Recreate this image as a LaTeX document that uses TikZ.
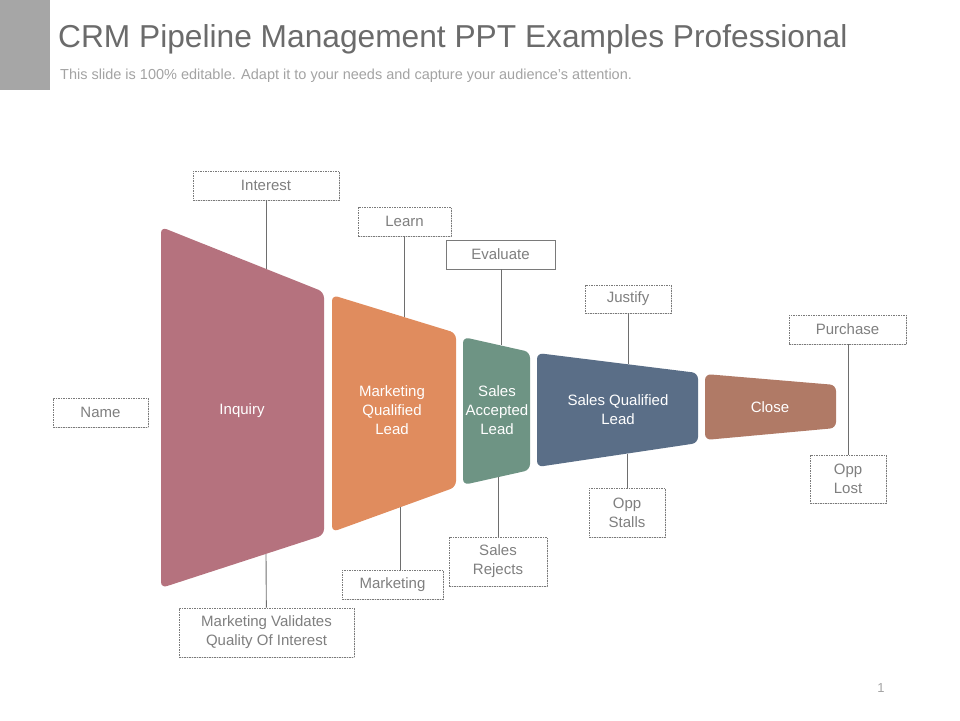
\documentclass[tikz,border=0pt]{standalone}
\usepackage{fontspec}
\setmainfont{Liberation Sans}
\usetikzlibrary{shadows}

\definecolor{inqcol}{HTML}{B5727E}
\definecolor{mqlcol}{HTML}{E08C5E}
\definecolor{salcol}{HTML}{6E9484}
\definecolor{sqlcol}{HTML}{5A6E87}
\definecolor{closecol}{HTML}{B07A66}
\definecolor{lblline}{HTML}{7A7A7A}
\definecolor{lbltext}{HTML}{7F7F7F}
\definecolor{linkcol}{HTML}{6E6E6E}
\definecolor{titlecol}{HTML}{6B6B6B}
\definecolor{subcol}{HTML}{A3A3A3}
\definecolor{barcol}{HTML}{A6A6A6}

\tikzset{
    lbl/.style={draw=lblline, dash pattern=on 1.5pt off 1pt, line width=0.7pt, fill=white, text=lbltext,
        font=\fontsize{15}{19}\selectfont, align=center, inner sep=0pt,
        drop shadow={shadow xshift=1pt, shadow yshift=-1pt, opacity=0.25}},
    lblsolid/.style={lbl, solid},
    stage/.style={rounded corners=6pt, draw=none},
    stagetext/.style={text=white, font=\fontsize{15}{19}\selectfont, align=center},
    link/.style={draw=linkcol, line width=0.9pt},
}

\begin{document}
\begin{tikzpicture}[x=1pt, y=-1pt]
    \useasboundingbox (0,0) rectangle (960,720);
    \fill[barcol] (0,0) rectangle (50,90);
    \node[anchor=base west, text=titlecol, font=\fontsize{31.7}{36}\selectfont, inner sep=0pt] (title) at (58,47) {CRM Pipeline Management PPT Examples Professional};
    \node[anchor=base west, text=subcol, font=\fontsize{14.5}{17}\selectfont, inner sep=0pt] (subtitle) at (60,79) {This slide is 100\% editable. Adapt it to your needs and capture your audience's attention.};

    \fill[stage, inqcol] (161,227) -- (324,292) -- (324,535) -- (161,588) -- cycle;
    \fill[stage, mqlcol] (332,295) -- (456,333) -- (456,487) -- (332,532) -- cycle;
    \fill[stage, salcol] (463,337) -- (530,352) -- (530,470) -- (463,485) -- cycle;
    \fill[stage, sqlcol] (537,353) -- (698,373) -- (698,443) -- (537,467) -- cycle;
    \fill[stage, closecol] (705,374) -- (836,385) -- (836,428) -- (705,440) -- cycle;

    \node[stagetext] (inquiry) at (242,411) {Inquiry};
    \node[stagetext] (mql) at (392,410) {Marketing\\Qualified\\Lead};
    \node[stagetext] (sal) at (497,410) {Sales\\Accepted\\Lead};
    \node[stagetext] (sql) at (618,410) {Sales Qualified\\Lead};
    \node[stagetext] (close) at (770,407) {Close};

    \coordinate (inqT) at (266,269);
    \coordinate (inqB) at (266,554);
    \coordinate (mqlT) at (404,317);
    \coordinate (mqlB) at (400,507);
    \coordinate (salT) at (501,345);
    \coordinate (salB) at (498,477);
    \coordinate (sqlT) at (628,364);
    \coordinate (sqlB) at (627,454);

    \node[lbl, minimum width=146pt, minimum height=29pt] (interest) at (266,185.5) {Interest};
    \node[lbl, minimum width=93pt, minimum height=29pt] (learn) at (404.5,221.5) {Learn};
    \node[lblsolid, minimum width=109pt, minimum height=29pt] (evaluate) at (500.5,254.5) {Evaluate};
    \node[lbl, minimum width=86pt, minimum height=28pt] (justify) at (628,299) {Justify};
    \node[lbl, minimum width=117pt, minimum height=29pt] (purchase) at (847.5,329.5) {Purchase};
    \node[lbl, minimum width=95pt, minimum height=29pt] (name) at (100.5,412.5) {Name};
    \node[lbl, minimum width=76pt, minimum height=48pt] (opplost) at (848,479) {Opp\\Lost};
    \node[lbl, minimum width=76pt, minimum height=49pt] (oppstalls) at (627,512.5) {Opp\\Stalls};
    \node[lbl, minimum width=98pt, minimum height=49pt] (rejects) at (498,561.5) {Sales\\Rejects};
    \node[lbl, minimum width=101pt, minimum height=29pt] (mkt) at (392.5,584.5) {Marketing};
    \node[lbl, minimum width=175pt, minimum height=49pt] (validates) at (266.5,632.5) {Marketing Validates\\Quality Of Interest};

    \draw[link] (interest) -- (inqT);
    \draw[link] (validates) -- (inqB);
    \draw[link] (learn.south -| mqlT) -- (mqlT);
    \draw[link] (mqlB) -- (mqlB |- mkt.north);
    \draw[link] (evaluate.south -| salT) -- (salT);
    \draw[link] (salB) -- (rejects);
    \draw[link] (justify) -- (sqlT);
    \draw[link] (sqlB) -- (oppstalls);
    \draw[link] (purchase.south -| opplost.north) -- (opplost.north);

    \node[text=subcol, font=\fontsize{13}{16}\selectfont] (pagenum) at (881,688) {1};
\end{tikzpicture}
\end{document}
